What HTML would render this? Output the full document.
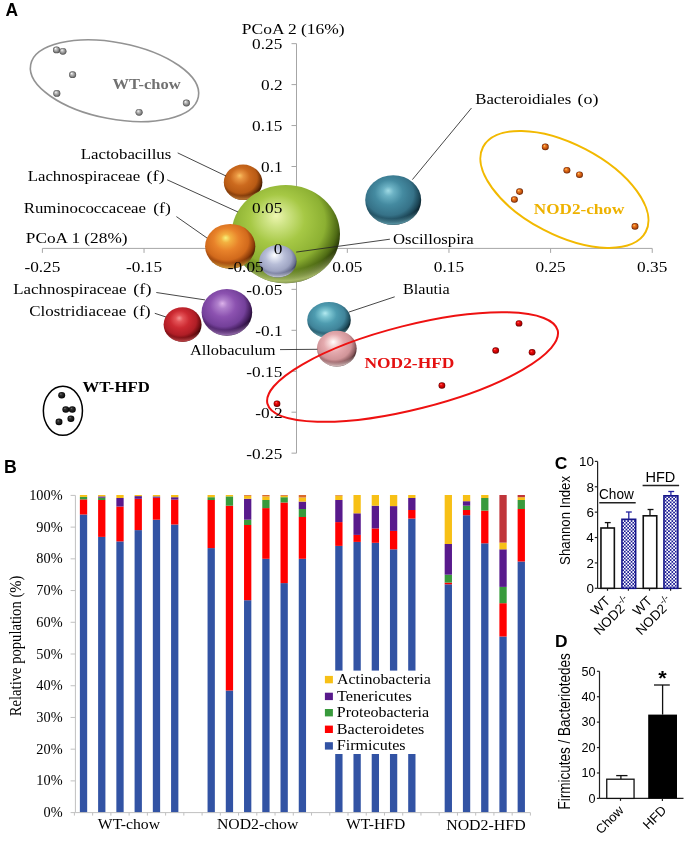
<!DOCTYPE html><html><head><meta charset="utf-8"><style>html,body{margin:0;padding:0;background:#fff;width:685px;height:843px;overflow:hidden;position:relative}</style></head><body><svg width="685" height="843" viewBox="0 0 685 843" style="position:absolute;left:0;top:0;will-change:transform">
<defs>
<radialGradient id="gOrange" cx="0.44" cy="0.4" r="0.6" fx="0.41" fy="0.31">
<stop offset="0" stop-color="#f6f27a"/>
<stop offset="0.16" stop-color="#f3b040"/>
<stop offset="0.42" stop-color="#e8822a"/>
<stop offset="0.72" stop-color="#d26a1c"/>
<stop offset="0.9" stop-color="#8a3a08"/>
<stop offset="1" stop-color="#3a1800"/>
</radialGradient>
<radialGradient id="gOrangeR" cx="0.47" cy="0.2" r="0.8"><stop offset="0" stop-color="#f3b040" stop-opacity="0"/><stop offset="0.84" stop-color="#f3b040" stop-opacity="0"/><stop offset="0.97" stop-color="#f3b040" stop-opacity="0.75"/><stop offset="1" stop-color="#f3b040" stop-opacity="0.6"/></radialGradient>
<radialGradient id="gOrange2" cx="0.44" cy="0.4" r="0.6" fx="0.41" fy="0.31">
<stop offset="0" stop-color="#f8c060"/>
<stop offset="0.16" stop-color="#e89440"/>
<stop offset="0.42" stop-color="#cc6a1e"/>
<stop offset="0.72" stop-color="#b85a14"/>
<stop offset="0.9" stop-color="#6a2e06"/>
<stop offset="1" stop-color="#2a1000"/>
</radialGradient>
<radialGradient id="gOrange2R" cx="0.47" cy="0.2" r="0.8"><stop offset="0" stop-color="#e89440" stop-opacity="0"/><stop offset="0.84" stop-color="#e89440" stop-opacity="0"/><stop offset="0.97" stop-color="#e89440" stop-opacity="0.75"/><stop offset="1" stop-color="#e89440" stop-opacity="0.6"/></radialGradient>
<radialGradient id="gGreen" cx="0.44" cy="0.4" r="0.6" fx="0.41" fy="0.31">
<stop offset="0" stop-color="#eef6b0"/>
<stop offset="0.16" stop-color="#cfe486"/>
<stop offset="0.42" stop-color="#a6c845"/>
<stop offset="0.72" stop-color="#8cb032"/>
<stop offset="0.9" stop-color="#4e6a14"/>
<stop offset="1" stop-color="#1e2a04"/>
</radialGradient>
<radialGradient id="gGreenR" cx="0.47" cy="0.2" r="0.8"><stop offset="0" stop-color="#cfe486" stop-opacity="0"/><stop offset="0.84" stop-color="#cfe486" stop-opacity="0"/><stop offset="0.97" stop-color="#cfe486" stop-opacity="0.75"/><stop offset="1" stop-color="#cfe486" stop-opacity="0.6"/></radialGradient>
<radialGradient id="gLav" cx="0.44" cy="0.4" r="0.6" fx="0.41" fy="0.31">
<stop offset="0" stop-color="#ffffff"/>
<stop offset="0.16" stop-color="#e2e6f2"/>
<stop offset="0.42" stop-color="#b8bed8"/>
<stop offset="0.72" stop-color="#9ea4c2"/>
<stop offset="0.9" stop-color="#6a7090"/>
<stop offset="1" stop-color="#30364e"/>
</radialGradient>
<radialGradient id="gLavR" cx="0.47" cy="0.2" r="0.8"><stop offset="0" stop-color="#e2e6f2" stop-opacity="0"/><stop offset="0.84" stop-color="#e2e6f2" stop-opacity="0"/><stop offset="0.97" stop-color="#e2e6f2" stop-opacity="0.75"/><stop offset="1" stop-color="#e2e6f2" stop-opacity="0.6"/></radialGradient>
<radialGradient id="gTeal" cx="0.44" cy="0.4" r="0.6" fx="0.41" fy="0.31">
<stop offset="0" stop-color="#a0dae4"/>
<stop offset="0.16" stop-color="#6cb2c4"/>
<stop offset="0.42" stop-color="#448aa0"/>
<stop offset="0.72" stop-color="#367288"/>
<stop offset="0.9" stop-color="#1a4252"/>
<stop offset="1" stop-color="#06161e"/>
</radialGradient>
<radialGradient id="gTealR" cx="0.47" cy="0.2" r="0.8"><stop offset="0" stop-color="#6cb2c4" stop-opacity="0"/><stop offset="0.84" stop-color="#6cb2c4" stop-opacity="0"/><stop offset="0.97" stop-color="#6cb2c4" stop-opacity="0.75"/><stop offset="1" stop-color="#6cb2c4" stop-opacity="0.6"/></radialGradient>
<radialGradient id="gTeal2" cx="0.44" cy="0.4" r="0.6" fx="0.41" fy="0.31">
<stop offset="0" stop-color="#b4eaf0"/>
<stop offset="0.16" stop-color="#80c8d4"/>
<stop offset="0.42" stop-color="#4e9cb0"/>
<stop offset="0.72" stop-color="#40849a"/>
<stop offset="0.9" stop-color="#1e4c5c"/>
<stop offset="1" stop-color="#06181e"/>
</radialGradient>
<radialGradient id="gTeal2R" cx="0.47" cy="0.2" r="0.8"><stop offset="0" stop-color="#80c8d4" stop-opacity="0"/><stop offset="0.84" stop-color="#80c8d4" stop-opacity="0"/><stop offset="0.97" stop-color="#80c8d4" stop-opacity="0.75"/><stop offset="1" stop-color="#80c8d4" stop-opacity="0.6"/></radialGradient>
<radialGradient id="gPurple" cx="0.44" cy="0.4" r="0.6" fx="0.41" fy="0.31">
<stop offset="0" stop-color="#dcb2ea"/>
<stop offset="0.16" stop-color="#b080cc"/>
<stop offset="0.42" stop-color="#8c52b0"/>
<stop offset="0.72" stop-color="#74409a"/>
<stop offset="0.9" stop-color="#3e1a56"/>
<stop offset="1" stop-color="#160620"/>
</radialGradient>
<radialGradient id="gPurpleR" cx="0.47" cy="0.2" r="0.8"><stop offset="0" stop-color="#b080cc" stop-opacity="0"/><stop offset="0.84" stop-color="#b080cc" stop-opacity="0"/><stop offset="0.97" stop-color="#b080cc" stop-opacity="0.75"/><stop offset="1" stop-color="#b080cc" stop-opacity="0.6"/></radialGradient>
<radialGradient id="gRed" cx="0.44" cy="0.4" r="0.6" fx="0.41" fy="0.31">
<stop offset="0" stop-color="#f49494"/>
<stop offset="0.16" stop-color="#e45458"/>
<stop offset="0.42" stop-color="#cc2a32"/>
<stop offset="0.72" stop-color="#b01e26"/>
<stop offset="0.9" stop-color="#6a0c10"/>
<stop offset="1" stop-color="#2a0204"/>
</radialGradient>
<radialGradient id="gRedR" cx="0.47" cy="0.2" r="0.8"><stop offset="0" stop-color="#e45458" stop-opacity="0"/><stop offset="0.84" stop-color="#e45458" stop-opacity="0"/><stop offset="0.97" stop-color="#e45458" stop-opacity="0.75"/><stop offset="1" stop-color="#e45458" stop-opacity="0.6"/></radialGradient>
<radialGradient id="gPink" cx="0.44" cy="0.4" r="0.6" fx="0.41" fy="0.31">
<stop offset="0" stop-color="#ffffff"/>
<stop offset="0.16" stop-color="#f8dcdc"/>
<stop offset="0.42" stop-color="#e4aaae"/>
<stop offset="0.72" stop-color="#d09498"/>
<stop offset="0.9" stop-color="#8a5a5e"/>
<stop offset="1" stop-color="#3a2022"/>
</radialGradient>
<radialGradient id="gPinkR" cx="0.47" cy="0.2" r="0.8"><stop offset="0" stop-color="#f8dcdc" stop-opacity="0"/><stop offset="0.84" stop-color="#f8dcdc" stop-opacity="0"/><stop offset="0.97" stop-color="#f8dcdc" stop-opacity="0.75"/><stop offset="1" stop-color="#f8dcdc" stop-opacity="0.6"/></radialGradient>
<radialGradient id="gDotGray" cx="0.5" cy="0.5" r="0.5" fx="0.35" fy="0.3">
<stop offset="0" stop-color="#ffffff"/>
<stop offset="0.3" stop-color="#c4c4c4"/>
<stop offset="0.7" stop-color="#8a8a8a"/>
<stop offset="1" stop-color="#4a4a4a"/>
</radialGradient>
<radialGradient id="gDotOrange" cx="0.5" cy="0.5" r="0.5" fx="0.35" fy="0.3">
<stop offset="0" stop-color="#ffd080"/>
<stop offset="0.3" stop-color="#f08020"/>
<stop offset="0.7" stop-color="#c05010"/>
<stop offset="1" stop-color="#602000"/>
</radialGradient>
<radialGradient id="gDotRed" cx="0.5" cy="0.5" r="0.5" fx="0.35" fy="0.3">
<stop offset="0" stop-color="#ff8080"/>
<stop offset="0.3" stop-color="#f01010"/>
<stop offset="0.7" stop-color="#c00000"/>
<stop offset="1" stop-color="#600000"/>
</radialGradient>
<radialGradient id="gDotBlack" cx="0.5" cy="0.5" r="0.5" fx="0.35" fy="0.3">
<stop offset="0" stop-color="#808080"/>
<stop offset="0.3" stop-color="#303030"/>
<stop offset="0.7" stop-color="#181818"/>
<stop offset="1" stop-color="#000000"/>
</radialGradient>
<pattern id="hatch" patternUnits="userSpaceOnUse" width="3.4" height="3.4"><rect width="3.4" height="3.4" fill="#1c1c96"/><rect x="0" y="0" width="1.7" height="1.7" fill="#ffffff"/><rect x="1.7" y="1.7" width="1.7" height="1.7" fill="#ffffff"/></pattern>
</defs>
<rect width="685" height="843" fill="#fff"/>
<line x1="42.40" y1="248.4" x2="652.24" y2="248.4" stroke="#a6a6a6" stroke-width="1"/>
<line x1="42.40" y1="248.4" x2="42.40" y2="252.9" stroke="#a6a6a6" stroke-width="1"/>
<line x1="144.04" y1="248.4" x2="144.04" y2="252.9" stroke="#a6a6a6" stroke-width="1"/>
<line x1="245.68" y1="248.4" x2="245.68" y2="252.9" stroke="#a6a6a6" stroke-width="1"/>
<line x1="347.32" y1="248.4" x2="347.32" y2="252.9" stroke="#a6a6a6" stroke-width="1"/>
<line x1="448.96" y1="248.4" x2="448.96" y2="252.9" stroke="#a6a6a6" stroke-width="1"/>
<line x1="550.60" y1="248.4" x2="550.60" y2="252.9" stroke="#a6a6a6" stroke-width="1"/>
<line x1="652.24" y1="248.4" x2="652.24" y2="252.9" stroke="#a6a6a6" stroke-width="1"/>
<line x1="296.5" y1="43.65" x2="296.5" y2="453.15" stroke="#a6a6a6" stroke-width="1"/>
<line x1="291.5" y1="43.65" x2="296.5" y2="43.65" stroke="#a6a6a6" stroke-width="1"/>
<line x1="291.5" y1="84.60" x2="296.5" y2="84.60" stroke="#a6a6a6" stroke-width="1"/>
<line x1="291.5" y1="125.55" x2="296.5" y2="125.55" stroke="#a6a6a6" stroke-width="1"/>
<line x1="291.5" y1="166.50" x2="296.5" y2="166.50" stroke="#a6a6a6" stroke-width="1"/>
<line x1="291.5" y1="207.45" x2="296.5" y2="207.45" stroke="#a6a6a6" stroke-width="1"/>
<line x1="291.5" y1="248.40" x2="296.5" y2="248.40" stroke="#a6a6a6" stroke-width="1"/>
<line x1="291.5" y1="289.35" x2="296.5" y2="289.35" stroke="#a6a6a6" stroke-width="1"/>
<line x1="291.5" y1="330.30" x2="296.5" y2="330.30" stroke="#a6a6a6" stroke-width="1"/>
<line x1="291.5" y1="371.25" x2="296.5" y2="371.25" stroke="#a6a6a6" stroke-width="1"/>
<line x1="291.5" y1="412.20" x2="296.5" y2="412.20" stroke="#a6a6a6" stroke-width="1"/>
<line x1="291.5" y1="453.15" x2="296.5" y2="453.15" stroke="#a6a6a6" stroke-width="1"/>
<ellipse cx="114.52" cy="80.75" rx="85.35" ry="38.27" transform="rotate(10.83 114.52 80.75)" fill="none" stroke="#939393" stroke-width="1.6"/>
<ellipse cx="564.4" cy="189.44" rx="91.75" ry="45.39" transform="rotate(27.52 564.4 189.44)" fill="none" stroke="#f2b900" stroke-width="2"/>
<ellipse cx="62.9" cy="410.8" rx="19.55" ry="24.55" transform="rotate(0 62.9 410.8)" fill="none" stroke="#000" stroke-width="1.5"/>
<ellipse cx="56.5" cy="49.9" rx="3.57" ry="3.4" fill="url(#gDotGray)"/>
<ellipse cx="62.9" cy="51.3" rx="3.57" ry="3.4" fill="url(#gDotGray)"/>
<ellipse cx="72.6" cy="74.7" rx="3.57" ry="3.4" fill="url(#gDotGray)"/>
<ellipse cx="56.8" cy="93.4" rx="3.57" ry="3.4" fill="url(#gDotGray)"/>
<ellipse cx="139.1" cy="112.3" rx="3.57" ry="3.4" fill="url(#gDotGray)"/>
<ellipse cx="186.4" cy="103" rx="3.57" ry="3.4" fill="url(#gDotGray)"/>
<ellipse cx="545.3" cy="146.9" rx="3.46" ry="3.3" fill="url(#gDotOrange)"/>
<ellipse cx="566.9" cy="170.3" rx="3.46" ry="3.3" fill="url(#gDotOrange)"/>
<ellipse cx="579.5" cy="174.7" rx="3.46" ry="3.3" fill="url(#gDotOrange)"/>
<ellipse cx="519.6" cy="191.6" rx="3.46" ry="3.3" fill="url(#gDotOrange)"/>
<ellipse cx="514.4" cy="199.5" rx="3.46" ry="3.3" fill="url(#gDotOrange)"/>
<ellipse cx="635" cy="226.4" rx="3.46" ry="3.3" fill="url(#gDotOrange)"/>
<ellipse cx="61.7" cy="395.2" rx="3.46" ry="3.3" fill="url(#gDotBlack)"/>
<ellipse cx="65.8" cy="409.5" rx="3.46" ry="3.3" fill="url(#gDotBlack)"/>
<ellipse cx="72.3" cy="409.5" rx="3.46" ry="3.3" fill="url(#gDotBlack)"/>
<ellipse cx="70.9" cy="418.7" rx="3.46" ry="3.3" fill="url(#gDotBlack)"/>
<ellipse cx="59" cy="421.9" rx="3.46" ry="3.3" fill="url(#gDotBlack)"/>
<ellipse cx="243.1" cy="182.3" rx="19.3" ry="17.7" fill="url(#gOrange2)"/>
<ellipse cx="243.1" cy="182.3" rx="19.3" ry="17.7" fill="url(#gOrange2R)"/>
<ellipse cx="285.8" cy="234.1" rx="54.2" ry="49.1" fill="url(#gGreen)"/>
<ellipse cx="285.8" cy="234.1" rx="54.2" ry="49.1" fill="url(#gGreenR)"/>
<ellipse cx="230.2" cy="246.3" rx="25.1" ry="22.4" fill="url(#gOrange)"/>
<ellipse cx="230.2" cy="246.3" rx="25.1" ry="22.4" fill="url(#gOrangeR)"/>
<ellipse cx="277.9" cy="261.2" rx="18.7" ry="16.3" fill="url(#gLav)"/>
<ellipse cx="277.9" cy="261.2" rx="18.7" ry="16.3" fill="url(#gLavR)"/>
<ellipse cx="393.2" cy="200.1" rx="28" ry="24.9" fill="url(#gTeal)"/>
<ellipse cx="393.2" cy="200.1" rx="28" ry="24.9" fill="url(#gTealR)"/>
<ellipse cx="226.9" cy="312.3" rx="25.3" ry="23.4" fill="url(#gPurple)"/>
<ellipse cx="226.9" cy="312.3" rx="25.3" ry="23.4" fill="url(#gPurpleR)"/>
<ellipse cx="182.6" cy="324.6" rx="19" ry="17.3" fill="url(#gRed)"/>
<ellipse cx="182.6" cy="324.6" rx="19" ry="17.3" fill="url(#gRedR)"/>
<ellipse cx="329" cy="320" rx="21.8" ry="18" fill="url(#gTeal2)"/>
<ellipse cx="329" cy="320" rx="21.8" ry="18" fill="url(#gTeal2R)"/>
<ellipse cx="336.8" cy="348.6" rx="19.9" ry="17.9" fill="url(#gPink)"/>
<ellipse cx="336.8" cy="348.6" rx="19.9" ry="17.9" fill="url(#gPinkR)"/>
<line x1="177.7" y1="152.9" x2="226" y2="176" stroke="#262626" stroke-width="0.85"/>
<line x1="167.2" y1="179.8" x2="238" y2="212" stroke="#262626" stroke-width="0.85"/>
<line x1="176.4" y1="216.6" x2="207" y2="238" stroke="#262626" stroke-width="0.85"/>
<line x1="389.9" y1="239.2" x2="296.2" y2="252.1" stroke="#262626" stroke-width="0.85"/>
<line x1="471.5" y1="108" x2="412.4" y2="179.6" stroke="#262626" stroke-width="0.85"/>
<line x1="156.3" y1="292.5" x2="205" y2="299.9" stroke="#262626" stroke-width="0.85"/>
<line x1="154.8" y1="313.3" x2="166" y2="317" stroke="#262626" stroke-width="0.85"/>
<line x1="394.7" y1="296.8" x2="348.8" y2="312.1" stroke="#262626" stroke-width="0.85"/>
<line x1="280" y1="349.6" x2="317.4" y2="349.3" stroke="#262626" stroke-width="0.85"/>
<ellipse cx="412.56" cy="367.05" rx="149.68" ry="41.93" transform="rotate(-14.2 412.56 367.05)" fill="none" stroke="#ee1111" stroke-width="2"/>
<ellipse cx="519" cy="323.4" rx="3.36" ry="3.2" fill="url(#gDotRed)"/>
<ellipse cx="495.7" cy="350.5" rx="3.36" ry="3.2" fill="url(#gDotRed)"/>
<ellipse cx="532.1" cy="352.3" rx="3.36" ry="3.2" fill="url(#gDotRed)"/>
<ellipse cx="441.9" cy="385.5" rx="3.36" ry="3.2" fill="url(#gDotRed)"/>
<ellipse cx="277" cy="403.7" rx="3.36" ry="3.2" fill="url(#gDotRed)"/>
<text x="252.12" y="49.05" font-family="Liberation Serif" font-size="15.3" font-weight="400" fill="#000" textLength="30.26" lengthAdjust="spacingAndGlyphs">0.25</text>
<text x="261.04" y="90.00" font-family="Liberation Serif" font-size="15.3" font-weight="400" fill="#000" textLength="21.61" lengthAdjust="spacingAndGlyphs">0.2</text>
<text x="252.12" y="130.95" font-family="Liberation Serif" font-size="15.3" font-weight="400" fill="#000" textLength="30.26" lengthAdjust="spacingAndGlyphs">0.15</text>
<text x="261.13" y="171.90" font-family="Liberation Serif" font-size="15.3" font-weight="400" fill="#000" textLength="21.61" lengthAdjust="spacingAndGlyphs">0.1</text>
<text x="252.12" y="212.85" font-family="Liberation Serif" font-size="15.3" font-weight="400" fill="#000" textLength="30.26" lengthAdjust="spacingAndGlyphs">0.05</text>
<text x="273.71" y="253.80" font-family="Liberation Serif" font-size="15.3" font-weight="400" fill="#000" textLength="8.64" lengthAdjust="spacingAndGlyphs">0</text>
<text x="246.36" y="294.75" font-family="Liberation Serif" font-size="15.3" font-weight="400" fill="#000" textLength="36.01" lengthAdjust="spacingAndGlyphs">-0.05</text>
<text x="255.37" y="335.70" font-family="Liberation Serif" font-size="15.3" font-weight="400" fill="#000" textLength="27.37" lengthAdjust="spacingAndGlyphs">-0.1</text>
<text x="246.36" y="376.65" font-family="Liberation Serif" font-size="15.3" font-weight="400" fill="#000" textLength="36.01" lengthAdjust="spacingAndGlyphs">-0.15</text>
<text x="255.28" y="417.60" font-family="Liberation Serif" font-size="15.3" font-weight="400" fill="#000" textLength="27.37" lengthAdjust="spacingAndGlyphs">-0.2</text>
<text x="246.36" y="458.55" font-family="Liberation Serif" font-size="15.3" font-weight="400" fill="#000" textLength="36.01" lengthAdjust="spacingAndGlyphs">-0.25</text>
<text x="24.41" y="272.10" font-family="Liberation Serif" font-size="15.3" font-weight="400" fill="#000" textLength="36.01" lengthAdjust="spacingAndGlyphs">-0.25</text>
<text x="126.05" y="272.10" font-family="Liberation Serif" font-size="15.3" font-weight="400" fill="#000" textLength="36.01" lengthAdjust="spacingAndGlyphs">-0.15</text>
<text x="227.69" y="272.10" font-family="Liberation Serif" font-size="15.3" font-weight="400" fill="#000" textLength="36.01" lengthAdjust="spacingAndGlyphs">-0.05</text>
<text x="332.20" y="272.10" font-family="Liberation Serif" font-size="15.3" font-weight="400" fill="#000" textLength="30.26" lengthAdjust="spacingAndGlyphs">0.05</text>
<text x="433.84" y="272.10" font-family="Liberation Serif" font-size="15.3" font-weight="400" fill="#000" textLength="30.26" lengthAdjust="spacingAndGlyphs">0.15</text>
<text x="535.48" y="272.10" font-family="Liberation Serif" font-size="15.3" font-weight="400" fill="#000" textLength="30.26" lengthAdjust="spacingAndGlyphs">0.25</text>
<text x="637.12" y="272.10" font-family="Liberation Serif" font-size="15.3" font-weight="400" fill="#000" textLength="30.26" lengthAdjust="spacingAndGlyphs">0.35</text>
<text x="241.81" y="33.70" font-family="Liberation Serif" font-size="15.4" font-weight="400" fill="#000" textLength="102.84" lengthAdjust="spacingAndGlyphs" >PCoA 2 (16%)</text>
<text x="25.82" y="242.80" font-family="Liberation Serif" font-size="15.4" font-weight="400" fill="#000" textLength="101.73" lengthAdjust="spacingAndGlyphs" >PCoA 1 (28%)</text>
<text x="80.73" y="158.70" font-family="Liberation Serif" font-size="15.4" font-weight="400" fill="#000" textLength="90.55" lengthAdjust="spacingAndGlyphs" >Lactobacillus</text>
<text x="27.73" y="181.40" font-family="Liberation Serif" font-size="15.4" font-weight="400" fill="#000" textLength="112.53" lengthAdjust="spacingAndGlyphs" >Lachnospiraceae</text>
<text x="146.51" y="181.40" font-family="Liberation Serif" font-size="15.4" font-weight="400" fill="#000" textLength="18.27" lengthAdjust="spacingAndGlyphs" >(f)</text>
<text x="23.73" y="213.00" font-family="Liberation Serif" font-size="15.4" font-weight="400" fill="#000" textLength="122.33" lengthAdjust="spacingAndGlyphs" >Ruminococcaceae</text>
<text x="153.24" y="213.00" font-family="Liberation Serif" font-size="15.4" font-weight="400" fill="#000" textLength="17.62" lengthAdjust="spacingAndGlyphs" >(f)</text>
<text x="392.91" y="243.60" font-family="Liberation Serif" font-size="15.4" font-weight="400" fill="#000" textLength="80.90" lengthAdjust="spacingAndGlyphs" >Oscillospira</text>
<text x="475.23" y="103.80" font-family="Liberation Serif" font-size="15.4" font-weight="400" fill="#000" textLength="95.95" lengthAdjust="spacingAndGlyphs" >Bacteroidiales</text>
<text x="577.53" y="103.80" font-family="Liberation Serif" font-size="15.4" font-weight="400" fill="#000" textLength="20.95" lengthAdjust="spacingAndGlyphs" >(o)</text>
<text x="13.33" y="293.50" font-family="Liberation Serif" font-size="15.4" font-weight="400" fill="#000" textLength="113.24" lengthAdjust="spacingAndGlyphs" >Lachnospiraceae</text>
<text x="133.32" y="293.50" font-family="Liberation Serif" font-size="15.4" font-weight="400" fill="#000" textLength="18.16" lengthAdjust="spacingAndGlyphs" >(f)</text>
<text x="29.31" y="315.80" font-family="Liberation Serif" font-size="15.4" font-weight="400" fill="#000" textLength="96.87" lengthAdjust="spacingAndGlyphs" >Clostridiaceae</text>
<text x="133.05" y="315.80" font-family="Liberation Serif" font-size="15.4" font-weight="400" fill="#000" textLength="17.51" lengthAdjust="spacingAndGlyphs" >(f)</text>
<text x="403.05" y="294.00" font-family="Liberation Serif" font-size="15.4" font-weight="400" fill="#000" textLength="46.67" lengthAdjust="spacingAndGlyphs" >Blautia</text>
<text x="189.95" y="354.80" font-family="Liberation Serif" font-size="15.4" font-weight="400" fill="#000" textLength="85.50" lengthAdjust="spacingAndGlyphs" >Allobaculum</text>
<text x="112.57" y="89.30" font-family="Liberation Serif" font-size="15.5" font-weight="700" fill="#717171" textLength="68.12" lengthAdjust="spacingAndGlyphs" >WT-chow</text>
<text x="533.87" y="213.70" font-family="Liberation Serif" font-size="15.5" font-weight="700" fill="#eeb200" textLength="90.42" lengthAdjust="spacingAndGlyphs" >NOD2-chow</text>
<text x="364.47" y="367.80" font-family="Liberation Serif" font-size="15.5" font-weight="700" fill="#e41010" textLength="89.97" lengthAdjust="spacingAndGlyphs" >NOD2-HFD</text>
<text x="82.47" y="391.70" font-family="Liberation Serif" font-size="15.5" font-weight="700" fill="#000" textLength="67.24" lengthAdjust="spacingAndGlyphs" >WT-HFD</text>
<text x="5.38" y="15.80" font-family="Liberation Sans" font-size="17.8" font-weight="700" fill="#000" textLength="12.57" lengthAdjust="spacingAndGlyphs" >A</text>
<text x="3.93" y="472.80" font-family="Liberation Sans" font-size="17.8" font-weight="700" fill="#000" textLength="12.77" lengthAdjust="spacingAndGlyphs" >B</text>
<text x="554.69" y="469.10" font-family="Liberation Sans" font-size="16.3" font-weight="700" fill="#000" textLength="12.59" lengthAdjust="spacingAndGlyphs" >C</text>
<text x="554.95" y="646.70" font-family="Liberation Sans" font-size="16.6" font-weight="700" fill="#000" textLength="12.56" lengthAdjust="spacingAndGlyphs" >D</text>
<rect x="79.87" y="514.50" width="7.3" height="298.10" fill="#3253a4"/>
<rect x="79.87" y="499.40" width="7.3" height="15.10" fill="#ff0000"/>
<rect x="79.87" y="496.90" width="7.3" height="2.50" fill="#389a3c"/>
<rect x="79.87" y="495.00" width="7.3" height="1.90" fill="#f7c016"/>
<rect x="98.11" y="536.90" width="7.3" height="275.70" fill="#3253a4"/>
<rect x="98.11" y="500.00" width="7.3" height="36.90" fill="#ff0000"/>
<rect x="98.11" y="497.70" width="7.3" height="2.30" fill="#389a3c"/>
<rect x="98.11" y="496.40" width="7.3" height="1.30" fill="#581a8c"/>
<rect x="98.11" y="495.00" width="7.3" height="1.40" fill="#f7c016"/>
<rect x="116.35" y="541.40" width="7.3" height="271.20" fill="#3253a4"/>
<rect x="116.35" y="506.50" width="7.3" height="34.90" fill="#ff0000"/>
<rect x="116.35" y="498.00" width="7.3" height="8.50" fill="#581a8c"/>
<rect x="116.35" y="495.00" width="7.3" height="3.00" fill="#f7c016"/>
<rect x="134.59" y="530.10" width="7.3" height="282.50" fill="#3253a4"/>
<rect x="134.59" y="498.80" width="7.3" height="31.30" fill="#ff0000"/>
<rect x="134.59" y="496.10" width="7.3" height="2.70" fill="#581a8c"/>
<rect x="134.59" y="495.00" width="7.3" height="1.10" fill="#f7c016"/>
<rect x="152.83" y="519.70" width="7.3" height="292.90" fill="#3253a4"/>
<rect x="152.83" y="497.70" width="7.3" height="22.00" fill="#ff0000"/>
<rect x="152.83" y="496.40" width="7.3" height="1.30" fill="#581a8c"/>
<rect x="152.83" y="495.00" width="7.3" height="1.40" fill="#f7c016"/>
<rect x="171.07" y="524.50" width="7.3" height="288.10" fill="#3253a4"/>
<rect x="171.07" y="499.60" width="7.3" height="24.90" fill="#ff0000"/>
<rect x="171.07" y="497.20" width="7.3" height="2.40" fill="#581a8c"/>
<rect x="171.07" y="495.00" width="7.3" height="2.20" fill="#f7c016"/>
<rect x="207.55" y="548.10" width="7.3" height="264.50" fill="#3253a4"/>
<rect x="207.55" y="500.00" width="7.3" height="48.10" fill="#ff0000"/>
<rect x="207.55" y="497.20" width="7.3" height="2.80" fill="#389a3c"/>
<rect x="207.55" y="495.00" width="7.3" height="2.20" fill="#f7c016"/>
<rect x="225.79" y="690.50" width="7.3" height="122.10" fill="#3253a4"/>
<rect x="225.79" y="505.70" width="7.3" height="184.80" fill="#ff0000"/>
<rect x="225.79" y="496.40" width="7.3" height="9.30" fill="#389a3c"/>
<rect x="225.79" y="495.00" width="7.3" height="1.40" fill="#f7c016"/>
<rect x="244.03" y="600.20" width="7.3" height="212.40" fill="#3253a4"/>
<rect x="244.03" y="525.00" width="7.3" height="75.20" fill="#ff0000"/>
<rect x="244.03" y="519.70" width="7.3" height="5.30" fill="#389a3c"/>
<rect x="244.03" y="498.80" width="7.3" height="20.90" fill="#581a8c"/>
<rect x="244.03" y="495.80" width="7.3" height="3.00" fill="#f7c016"/>
<rect x="244.03" y="495.00" width="7.3" height="0.80" fill="#d96a2e"/>
<rect x="262.27" y="558.80" width="7.3" height="253.80" fill="#3253a4"/>
<rect x="262.27" y="508.10" width="7.3" height="50.70" fill="#ff0000"/>
<rect x="262.27" y="500.00" width="7.3" height="8.10" fill="#389a3c"/>
<rect x="262.27" y="496.40" width="7.3" height="3.60" fill="#f7c016"/>
<rect x="262.27" y="495.00" width="7.3" height="1.40" fill="#d96a2e"/>
<rect x="280.51" y="583.10" width="7.3" height="229.50" fill="#3253a4"/>
<rect x="280.51" y="502.50" width="7.3" height="80.60" fill="#ff0000"/>
<rect x="280.51" y="497.20" width="7.3" height="5.30" fill="#389a3c"/>
<rect x="280.51" y="495.80" width="7.3" height="1.40" fill="#f7c016"/>
<rect x="280.51" y="495.00" width="7.3" height="0.80" fill="#d96a2e"/>
<rect x="298.75" y="558.80" width="7.3" height="253.80" fill="#3253a4"/>
<rect x="298.75" y="517.00" width="7.3" height="41.80" fill="#ff0000"/>
<rect x="298.75" y="509.00" width="7.3" height="8.00" fill="#389a3c"/>
<rect x="298.75" y="501.60" width="7.3" height="7.40" fill="#581a8c"/>
<rect x="298.75" y="497.50" width="7.3" height="4.10" fill="#f7c016"/>
<rect x="298.75" y="495.00" width="7.3" height="2.50" fill="#d96a2e"/>
<rect x="335.23" y="545.90" width="7.3" height="266.70" fill="#3253a4"/>
<rect x="335.23" y="522.10" width="7.3" height="23.80" fill="#ff0000"/>
<rect x="335.23" y="500.00" width="7.3" height="22.10" fill="#581a8c"/>
<rect x="335.23" y="495.60" width="7.3" height="4.40" fill="#f7c016"/>
<rect x="335.23" y="495.00" width="7.3" height="0.60" fill="#d96a2e"/>
<rect x="353.47" y="541.90" width="7.3" height="270.70" fill="#3253a4"/>
<rect x="353.47" y="534.90" width="7.3" height="7.00" fill="#ff0000"/>
<rect x="353.47" y="513.30" width="7.3" height="21.60" fill="#581a8c"/>
<rect x="353.47" y="495.00" width="7.3" height="18.30" fill="#f7c016"/>
<rect x="371.71" y="542.80" width="7.3" height="269.80" fill="#3253a4"/>
<rect x="371.71" y="528.40" width="7.3" height="14.40" fill="#ff0000"/>
<rect x="371.71" y="505.70" width="7.3" height="22.70" fill="#581a8c"/>
<rect x="371.71" y="495.00" width="7.3" height="10.70" fill="#f7c016"/>
<rect x="389.95" y="549.30" width="7.3" height="263.30" fill="#3253a4"/>
<rect x="389.95" y="530.90" width="7.3" height="18.40" fill="#ff0000"/>
<rect x="389.95" y="506.10" width="7.3" height="24.80" fill="#581a8c"/>
<rect x="389.95" y="495.00" width="7.3" height="11.10" fill="#f7c016"/>
<rect x="408.19" y="518.60" width="7.3" height="294.00" fill="#3253a4"/>
<rect x="408.19" y="510.00" width="7.3" height="8.60" fill="#ff0000"/>
<rect x="408.19" y="498.00" width="7.3" height="12.00" fill="#581a8c"/>
<rect x="408.19" y="495.00" width="7.3" height="3.00" fill="#f7c016"/>
<rect x="444.67" y="584.30" width="7.3" height="228.30" fill="#3253a4"/>
<rect x="444.67" y="582.60" width="7.3" height="1.70" fill="#ff0000"/>
<rect x="444.67" y="574.70" width="7.3" height="7.90" fill="#389a3c"/>
<rect x="444.67" y="544.00" width="7.3" height="30.70" fill="#581a8c"/>
<rect x="444.67" y="495.00" width="7.3" height="49.00" fill="#f7c016"/>
<rect x="462.91" y="515.20" width="7.3" height="297.40" fill="#3253a4"/>
<rect x="462.91" y="510.00" width="7.3" height="5.20" fill="#ff0000"/>
<rect x="462.91" y="505.70" width="7.3" height="4.30" fill="#389a3c"/>
<rect x="462.91" y="501.20" width="7.3" height="4.50" fill="#581a8c"/>
<rect x="462.91" y="495.00" width="7.3" height="6.20" fill="#f7c016"/>
<rect x="481.15" y="543.30" width="7.3" height="269.30" fill="#3253a4"/>
<rect x="481.15" y="510.60" width="7.3" height="32.70" fill="#ff0000"/>
<rect x="481.15" y="498.00" width="7.3" height="12.60" fill="#389a3c"/>
<rect x="481.15" y="495.00" width="7.3" height="3.00" fill="#f7c016"/>
<rect x="499.39" y="636.50" width="7.3" height="176.10" fill="#3253a4"/>
<rect x="499.39" y="603.20" width="7.3" height="33.30" fill="#ff0000"/>
<rect x="499.39" y="586.90" width="7.3" height="16.30" fill="#389a3c"/>
<rect x="499.39" y="549.30" width="7.3" height="37.60" fill="#581a8c"/>
<rect x="499.39" y="542.60" width="7.3" height="6.70" fill="#f7c016"/>
<rect x="499.39" y="495.00" width="7.3" height="47.60" fill="#c0353a"/>
<rect x="517.63" y="561.50" width="7.3" height="251.10" fill="#3253a4"/>
<rect x="517.63" y="509.00" width="7.3" height="52.50" fill="#ff0000"/>
<rect x="517.63" y="500.00" width="7.3" height="9.00" fill="#389a3c"/>
<rect x="517.63" y="497.20" width="7.3" height="2.80" fill="#f7c016"/>
<rect x="517.63" y="495.00" width="7.3" height="2.20" fill="#c0353a"/>
<line x1="75.4" y1="495.4" x2="75.4" y2="812.6" stroke="#c0c0c0" stroke-width="1"/>
<line x1="75.4" y1="812.6" x2="530.40" y2="812.6" stroke="#c0c0c0" stroke-width="1"/>
<line x1="70.6" y1="495.40" x2="75.4" y2="495.40" stroke="#c0c0c0" stroke-width="1"/>
<text x="29.22" y="499.90" font-family="Liberation Serif" font-size="14.3" font-weight="400" fill="#000" textLength="33.36" lengthAdjust="spacingAndGlyphs">100%</text>
<line x1="70.6" y1="527.12" x2="75.4" y2="527.12" stroke="#c0c0c0" stroke-width="1"/>
<text x="36.37" y="531.62" font-family="Liberation Serif" font-size="14.3" font-weight="400" fill="#000" textLength="26.21" lengthAdjust="spacingAndGlyphs">90%</text>
<line x1="70.6" y1="558.84" x2="75.4" y2="558.84" stroke="#c0c0c0" stroke-width="1"/>
<text x="36.37" y="563.34" font-family="Liberation Serif" font-size="14.3" font-weight="400" fill="#000" textLength="26.21" lengthAdjust="spacingAndGlyphs">80%</text>
<line x1="70.6" y1="590.56" x2="75.4" y2="590.56" stroke="#c0c0c0" stroke-width="1"/>
<text x="36.37" y="595.06" font-family="Liberation Serif" font-size="14.3" font-weight="400" fill="#000" textLength="26.21" lengthAdjust="spacingAndGlyphs">70%</text>
<line x1="70.6" y1="622.28" x2="75.4" y2="622.28" stroke="#c0c0c0" stroke-width="1"/>
<text x="36.37" y="626.78" font-family="Liberation Serif" font-size="14.3" font-weight="400" fill="#000" textLength="26.21" lengthAdjust="spacingAndGlyphs">60%</text>
<line x1="70.6" y1="654.00" x2="75.4" y2="654.00" stroke="#c0c0c0" stroke-width="1"/>
<text x="36.37" y="658.50" font-family="Liberation Serif" font-size="14.3" font-weight="400" fill="#000" textLength="26.21" lengthAdjust="spacingAndGlyphs">50%</text>
<line x1="70.6" y1="685.72" x2="75.4" y2="685.72" stroke="#c0c0c0" stroke-width="1"/>
<text x="36.37" y="690.22" font-family="Liberation Serif" font-size="14.3" font-weight="400" fill="#000" textLength="26.21" lengthAdjust="spacingAndGlyphs">40%</text>
<line x1="70.6" y1="717.44" x2="75.4" y2="717.44" stroke="#c0c0c0" stroke-width="1"/>
<text x="36.37" y="721.94" font-family="Liberation Serif" font-size="14.3" font-weight="400" fill="#000" textLength="26.21" lengthAdjust="spacingAndGlyphs">30%</text>
<line x1="70.6" y1="749.16" x2="75.4" y2="749.16" stroke="#c0c0c0" stroke-width="1"/>
<text x="36.37" y="753.66" font-family="Liberation Serif" font-size="14.3" font-weight="400" fill="#000" textLength="26.21" lengthAdjust="spacingAndGlyphs">20%</text>
<line x1="70.6" y1="780.88" x2="75.4" y2="780.88" stroke="#c0c0c0" stroke-width="1"/>
<text x="36.37" y="785.38" font-family="Liberation Serif" font-size="14.3" font-weight="400" fill="#000" textLength="26.21" lengthAdjust="spacingAndGlyphs">10%</text>
<line x1="70.6" y1="812.60" x2="75.4" y2="812.60" stroke="#c0c0c0" stroke-width="1"/>
<text x="43.52" y="817.10" font-family="Liberation Serif" font-size="14.3" font-weight="400" fill="#000" textLength="19.06" lengthAdjust="spacingAndGlyphs">0%</text>
<line x1="74.40" y1="812.6" x2="74.40" y2="815.6" stroke="#c0c0c0" stroke-width="1"/>
<line x1="92.64" y1="812.6" x2="92.64" y2="815.6" stroke="#c0c0c0" stroke-width="1"/>
<line x1="110.88" y1="812.6" x2="110.88" y2="815.6" stroke="#c0c0c0" stroke-width="1"/>
<line x1="129.12" y1="812.6" x2="129.12" y2="815.6" stroke="#c0c0c0" stroke-width="1"/>
<line x1="147.36" y1="812.6" x2="147.36" y2="815.6" stroke="#c0c0c0" stroke-width="1"/>
<line x1="165.60" y1="812.6" x2="165.60" y2="815.6" stroke="#c0c0c0" stroke-width="1"/>
<line x1="183.84" y1="812.6" x2="183.84" y2="815.6" stroke="#c0c0c0" stroke-width="1"/>
<line x1="202.08" y1="812.6" x2="202.08" y2="815.6" stroke="#c0c0c0" stroke-width="1"/>
<line x1="220.32" y1="812.6" x2="220.32" y2="815.6" stroke="#c0c0c0" stroke-width="1"/>
<line x1="238.56" y1="812.6" x2="238.56" y2="815.6" stroke="#c0c0c0" stroke-width="1"/>
<line x1="256.80" y1="812.6" x2="256.80" y2="815.6" stroke="#c0c0c0" stroke-width="1"/>
<line x1="275.04" y1="812.6" x2="275.04" y2="815.6" stroke="#c0c0c0" stroke-width="1"/>
<line x1="293.28" y1="812.6" x2="293.28" y2="815.6" stroke="#c0c0c0" stroke-width="1"/>
<line x1="311.52" y1="812.6" x2="311.52" y2="815.6" stroke="#c0c0c0" stroke-width="1"/>
<line x1="329.76" y1="812.6" x2="329.76" y2="815.6" stroke="#c0c0c0" stroke-width="1"/>
<line x1="348.00" y1="812.6" x2="348.00" y2="815.6" stroke="#c0c0c0" stroke-width="1"/>
<line x1="366.24" y1="812.6" x2="366.24" y2="815.6" stroke="#c0c0c0" stroke-width="1"/>
<line x1="384.48" y1="812.6" x2="384.48" y2="815.6" stroke="#c0c0c0" stroke-width="1"/>
<line x1="402.72" y1="812.6" x2="402.72" y2="815.6" stroke="#c0c0c0" stroke-width="1"/>
<line x1="420.96" y1="812.6" x2="420.96" y2="815.6" stroke="#c0c0c0" stroke-width="1"/>
<line x1="439.20" y1="812.6" x2="439.20" y2="815.6" stroke="#c0c0c0" stroke-width="1"/>
<line x1="457.44" y1="812.6" x2="457.44" y2="815.6" stroke="#c0c0c0" stroke-width="1"/>
<line x1="475.68" y1="812.6" x2="475.68" y2="815.6" stroke="#c0c0c0" stroke-width="1"/>
<line x1="493.92" y1="812.6" x2="493.92" y2="815.6" stroke="#c0c0c0" stroke-width="1"/>
<line x1="512.16" y1="812.6" x2="512.16" y2="815.6" stroke="#c0c0c0" stroke-width="1"/>
<line x1="530.40" y1="812.6" x2="530.40" y2="815.6" stroke="#c0c0c0" stroke-width="1"/>
<text x="97.80" y="829.20" font-family="Liberation Serif" font-size="14.3" font-weight="400" fill="#000" textLength="62.26" lengthAdjust="spacingAndGlyphs" >WT-chow</text>
<text x="216.96" y="829.40" font-family="Liberation Serif" font-size="14.3" font-weight="400" fill="#000" textLength="81.31" lengthAdjust="spacingAndGlyphs" >NOD2-chow</text>
<text x="346.00" y="829.20" font-family="Liberation Serif" font-size="14.3" font-weight="400" fill="#000" textLength="59.21" lengthAdjust="spacingAndGlyphs" >WT-HFD</text>
<text x="446.15" y="829.60" font-family="Liberation Serif" font-size="14.3" font-weight="400" fill="#000" textLength="79.57" lengthAdjust="spacingAndGlyphs" >NOD2-HFD</text>
<text transform="translate(21.30,716.20) rotate(-90) scale(1,1.13)" x="0" y="0" font-family="Liberation Serif" font-size="14.3" font-weight="400" fill="#000" text-anchor="start" textLength="140.50" lengthAdjust="spacingAndGlyphs">Relative population (%)</text>
<rect x="318" y="670.6" width="118" height="83.4" fill="#fff"/>
<rect x="324.9" y="675.9" width="8" height="7.4" fill="#f7c016"/>
<text x="337.06" y="684.10" font-family="Liberation Serif" font-size="14.3" font-weight="400" fill="#000" textLength="93.75" lengthAdjust="spacingAndGlyphs" >Actinobacteria</text>
<rect x="324.9" y="692.7" width="8" height="7.4" fill="#581a8c"/>
<text x="336.91" y="700.50" font-family="Liberation Serif" font-size="14.3" font-weight="400" fill="#000" textLength="74.87" lengthAdjust="spacingAndGlyphs" >Tenericutes</text>
<rect x="324.9" y="709.0" width="8" height="7.4" fill="#389a3c"/>
<text x="336.75" y="717.20" font-family="Liberation Serif" font-size="14.3" font-weight="400" fill="#000" textLength="92.35" lengthAdjust="spacingAndGlyphs" >Proteobacteria</text>
<rect x="324.9" y="725.6" width="8" height="7.4" fill="#ff0000"/>
<text x="336.75" y="733.60" font-family="Liberation Serif" font-size="14.3" font-weight="400" fill="#000" textLength="87.61" lengthAdjust="spacingAndGlyphs" >Bacteroidetes</text>
<rect x="324.9" y="742.2" width="8" height="7.4" fill="#3253a4"/>
<text x="336.75" y="749.90" font-family="Liberation Serif" font-size="14.3" font-weight="400" fill="#000" textLength="68.82" lengthAdjust="spacingAndGlyphs" >Firmicutes</text>
<line x1="597.6" y1="461.40" x2="597.6" y2="588.3" stroke="#222" stroke-width="1.2"/>
<line x1="597.6" y1="588.3" x2="681.6" y2="588.3" stroke="#222" stroke-width="1.2"/>
<line x1="594.8" y1="588.30" x2="597.6" y2="588.30" stroke="#222" stroke-width="1.2"/>
<text x="586.46" y="593.10" font-family="Liberation Sans" font-size="13.4" font-weight="400" fill="#000" textLength="7.45" lengthAdjust="spacingAndGlyphs">0</text>
<line x1="594.8" y1="562.92" x2="597.6" y2="562.92" stroke="#222" stroke-width="1.2"/>
<text x="586.62" y="567.72" font-family="Liberation Sans" font-size="13.4" font-weight="400" fill="#000" textLength="7.45" lengthAdjust="spacingAndGlyphs">2</text>
<line x1="594.8" y1="537.54" x2="597.6" y2="537.54" stroke="#222" stroke-width="1.2"/>
<text x="586.34" y="542.34" font-family="Liberation Sans" font-size="13.4" font-weight="400" fill="#000" textLength="7.45" lengthAdjust="spacingAndGlyphs">4</text>
<line x1="594.8" y1="512.16" x2="597.6" y2="512.16" stroke="#222" stroke-width="1.2"/>
<text x="586.53" y="516.96" font-family="Liberation Sans" font-size="13.4" font-weight="400" fill="#000" textLength="7.45" lengthAdjust="spacingAndGlyphs">6</text>
<line x1="594.8" y1="486.78" x2="597.6" y2="486.78" stroke="#222" stroke-width="1.2"/>
<text x="586.53" y="491.58" font-family="Liberation Sans" font-size="13.4" font-weight="400" fill="#000" textLength="7.45" lengthAdjust="spacingAndGlyphs">8</text>
<line x1="594.8" y1="461.40" x2="597.6" y2="461.40" stroke="#222" stroke-width="1.2"/>
<text x="579.01" y="466.20" font-family="Liberation Sans" font-size="13.4" font-weight="400" fill="#000" textLength="14.90" lengthAdjust="spacingAndGlyphs">10</text>
<line x1="607.5" y1="588.3" x2="607.5" y2="590.8" stroke="#222" stroke-width="1.2"/>
<line x1="628.4" y1="588.3" x2="628.4" y2="590.8" stroke="#222" stroke-width="1.2"/>
<line x1="649.5" y1="588.3" x2="649.5" y2="590.8" stroke="#222" stroke-width="1.2"/>
<line x1="670.6" y1="588.3" x2="670.6" y2="590.8" stroke="#222" stroke-width="1.2"/>
<rect x="600.9499999999999" y="528.00" width="13.40" height="60.30" fill="#fff" stroke="#111" stroke-width="1.6"/>
<line x1="607.65" y1="528.00" x2="607.65" y2="522.6" stroke="#111" stroke-width="1.3"/>
<line x1="604.8" y1="522.6" x2="610.7" y2="522.6" stroke="#111" stroke-width="1.3"/>
<rect x="621.9499999999999" y="519.30" width="13.70" height="69.00" fill="url(#hatch)" stroke="#16168a" stroke-width="1.6"/>
<line x1="628.80" y1="519.30" x2="628.80" y2="512.0" stroke="#2424a0" stroke-width="1.3"/>
<line x1="625.9" y1="512.0" x2="631.8" y2="512.0" stroke="#2424a0" stroke-width="1.3"/>
<rect x="643.25" y="515.80" width="13.50" height="72.50" fill="#fff" stroke="#111" stroke-width="1.6"/>
<line x1="650.00" y1="515.80" x2="650.00" y2="509.5" stroke="#111" stroke-width="1.3"/>
<line x1="647.6" y1="509.5" x2="653.5" y2="509.5" stroke="#111" stroke-width="1.3"/>
<rect x="663.9499999999999" y="495.80" width="13.90" height="92.50" fill="url(#hatch)" stroke="#16168a" stroke-width="1.6"/>
<line x1="670.90" y1="495.80" x2="670.90" y2="491.5" stroke="#2424a0" stroke-width="1.3"/>
<line x1="668.3" y1="491.5" x2="674.2" y2="491.5" stroke="#2424a0" stroke-width="1.3"/>
<text x="599.02" y="499.00" font-family="Liberation Sans" font-size="14.2" font-weight="400" fill="#000" textLength="34.75" lengthAdjust="spacingAndGlyphs" >Chow</text>
<line x1="599.3" y1="502.7" x2="635.7" y2="502.7" stroke="#222" stroke-width="1.5"/>
<text x="645.41" y="481.50" font-family="Liberation Sans" font-size="14.2" font-weight="400" fill="#000" textLength="29.88" lengthAdjust="spacingAndGlyphs" >HFD</text>
<line x1="642.6" y1="485.5" x2="679.1" y2="485.5" stroke="#222" stroke-width="1.5"/>
<text transform="translate(570.00,564.90) rotate(-90) scale(1,1.15)" x="0" y="0" font-family="Liberation Sans" font-size="13.3" font-weight="400" fill="#000" text-anchor="start" textLength="89.00" lengthAdjust="spacingAndGlyphs">Shannon Index</text>
<text transform="translate(611.00,601.80) rotate(-45)" font-family="Liberation Sans" font-size="13.4" text-anchor="end">WT</text>
<text transform="translate(625.50,609.50) rotate(-45)" font-family="Liberation Sans" font-size="13.4"><tspan x="-37.23" y="0">NOD2</tspan><tspan font-size="9.5" dy="-6.5">-/-</tspan></text>
<text transform="translate(653.00,601.80) rotate(-45)" font-family="Liberation Sans" font-size="13.4" text-anchor="end">WT</text>
<text transform="translate(667.50,609.50) rotate(-45)" font-family="Liberation Sans" font-size="13.4"><tspan x="-37.23" y="0">NOD2</tspan><tspan font-size="9.5" dy="-6.5">-/-</tspan></text>
<line x1="599.5" y1="671.30" x2="599.5" y2="798.4" stroke="#222" stroke-width="1.2"/>
<line x1="599.5" y1="798.4" x2="683.5" y2="798.4" stroke="#222" stroke-width="1.2"/>
<line x1="596.9" y1="798.40" x2="599.5" y2="798.40" stroke="#222" stroke-width="1.2"/>
<text x="588.47" y="802.60" font-family="Liberation Sans" font-size="12.6" font-weight="400" fill="#000" textLength="7.01" lengthAdjust="spacingAndGlyphs">0</text>
<line x1="596.9" y1="772.98" x2="599.5" y2="772.98" stroke="#222" stroke-width="1.2"/>
<text x="581.47" y="777.18" font-family="Liberation Sans" font-size="12.6" font-weight="400" fill="#000" textLength="14.02" lengthAdjust="spacingAndGlyphs">10</text>
<line x1="596.9" y1="747.56" x2="599.5" y2="747.56" stroke="#222" stroke-width="1.2"/>
<text x="581.47" y="751.76" font-family="Liberation Sans" font-size="12.6" font-weight="400" fill="#000" textLength="14.02" lengthAdjust="spacingAndGlyphs">20</text>
<line x1="596.9" y1="722.14" x2="599.5" y2="722.14" stroke="#222" stroke-width="1.2"/>
<text x="581.47" y="726.34" font-family="Liberation Sans" font-size="12.6" font-weight="400" fill="#000" textLength="14.02" lengthAdjust="spacingAndGlyphs">30</text>
<line x1="596.9" y1="696.72" x2="599.5" y2="696.72" stroke="#222" stroke-width="1.2"/>
<text x="581.47" y="700.92" font-family="Liberation Sans" font-size="12.6" font-weight="400" fill="#000" textLength="14.02" lengthAdjust="spacingAndGlyphs">40</text>
<line x1="596.9" y1="671.30" x2="599.5" y2="671.30" stroke="#222" stroke-width="1.2"/>
<text x="581.47" y="675.50" font-family="Liberation Sans" font-size="12.6" font-weight="400" fill="#000" textLength="14.02" lengthAdjust="spacingAndGlyphs">50</text>
<line x1="620.5" y1="798.4" x2="620.5" y2="800.9" stroke="#222" stroke-width="1.2"/>
<line x1="662.4" y1="798.4" x2="662.4" y2="800.9" stroke="#222" stroke-width="1.2"/>
<line x1="620.9" y1="779.2" x2="620.9" y2="775.6" stroke="#111" stroke-width="1.3"/>
<line x1="616.2" y1="775.6" x2="627.5" y2="775.6" stroke="#111" stroke-width="1.3"/>
<rect x="606.75" y="779.2" width="27.3" height="19.20" fill="#fff" stroke="#111" stroke-width="1.3"/>
<line x1="662.6" y1="714.6" x2="662.6" y2="685" stroke="#111" stroke-width="1.3"/>
<line x1="654" y1="685" x2="669.8" y2="685" stroke="#111" stroke-width="1.3"/>
<rect x="648.2" y="714.6" width="28.8" height="83.80" fill="#000"/>
<text x="658.26" y="684.50" font-family="Liberation Sans" font-size="20" font-weight="700" fill="#000" textLength="8.45" lengthAdjust="spacingAndGlyphs" >*</text>
<text transform="translate(569.90,809.60) rotate(-90) scale(1,1.17)" x="0" y="0" font-family="Liberation Sans" font-size="13.5" font-weight="400" fill="#000" text-anchor="start" textLength="156.40" lengthAdjust="spacingAndGlyphs">Firmicutes / Bacteriotedes</text>
<text transform="translate(624.50,811.20) rotate(-45)" font-family="Liberation Sans" font-size="13" text-anchor="end">Chow</text>
<text transform="translate(667.20,811.20) rotate(-45)" font-family="Liberation Sans" font-size="13" text-anchor="end">HFD</text>
</svg></body></html>
